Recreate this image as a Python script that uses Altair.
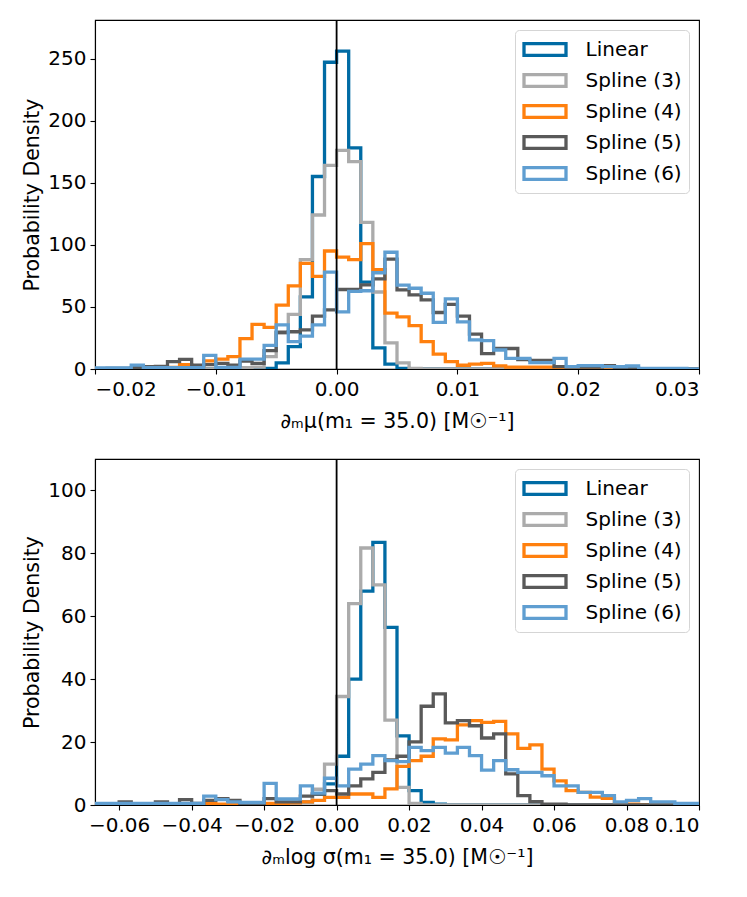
import altair as alt
import numpy as np
import pandas as pd

series = ["Linear", "Spline (3)", "Spline (4)", "Spline (5)", "Spline (6)"]
colors = ["#006BA4", "#ABABAB", "#FF800E", "#595959", "#5F9ED1"]

# ---- top panel: 50 bins from -0.02 to 0.03 ----
top_lo, top_hi = -0.02, 0.03
top_xticks = [-0.02, -0.01, 0.0, 0.01, 0.02, 0.03]
top_yticks = [0, 50, 100, 150, 200, 250]
top_ymax = 281
top_xtitle = "∂ₘμ(m₁ = 35.0) [M☉⁻¹]"

top_linear = [0] * 14 + [0.5, 5, 18, 58, 155, 247, 256, 178, 70, 17, 4, 0.5] + [0] * 24
top_s3 = [0] * 12 + [1, 1.5, 10, 29, 44, 88, 124, 164, 176, 167, 118, 62, 21, 5, 0.5] + [0] * 23
top_s4 = [0] * 4 + [0.5, 0.5, 1.3, 3.5, 2, 6.5, 8, 10, 24.5, 36, 33.5, 51.5, 67, 85, 74.5,
                    95, 90, 88, 101, 80, 45, 42, 35, 22, 12, 6, 3, 4, 4.5, 2.5, 1.5, 1.5,
                    1.5, 1.5, 0.5] + [0] * 11
top_s5 = [0, 0.5, 0.5, 1, 1.9, 2, 5.9, 7.8, 3.2, 3.5, 4.6, 3.2, 6.4, 4.6, 14.8, 29.6, 30,
          31.5, 42.5, 47.6, 64, 64, 67.7, 72.6, 88.4, 63.7, 59.7, 55.6, 45.5, 52, 42.5, 28,
          12.3, 16.5, 16.5, 7.5, 7, 7, 1.9, 1.5, 1.5, 1.5, 2.7, 1, 0.5] + [0] * 5
top_s6 = [0.8, 0.8, 0.8, 3.2, 1, 1, 1, 1, 1, 11, 1.3, 1.3, 8, 8, 19, 35.5, 22, 26.5, 35.5,
          78, 46, 62.5, 63, 77.5, 94, 67.5, 65, 61, 37.5, 56.5, 38, 23.4, 22.8, 15.3, 8.6,
          8.6, 5.1, 5.1, 8.6, 1.9, 2.7, 2.7, 1.9, 1.9, 2.4, 0.5, 0.5, 0.5, 0.5, 0]

# ---- bottom panel: 50 bins from -1/15 to 0.1 ----
bot_lo, bot_hi = -1.0 / 15.0, 0.10
bot_xticks = [-0.06, -0.04, -0.02, 0.0, 0.02, 0.04, 0.06, 0.08, 0.10]
bot_yticks = [0, 20, 40, 60, 80, 100]
bot_ymax = 110
bot_xtitle = "∂ₘlog σ(m₁ = 35.0) [M☉⁻¹]"

bot_linear = [0] * 16 + [0.3, 1, 3.5, 6.7, 15.5, 40, 68, 83.5, 56.5, 22, 4.6, 0.8, 0.3] + [0] * 21
bot_s3 = [0] * 16 + [0.3, 1, 5, 13, 34.5, 64, 81.7, 70, 27, 5.6, 0.5] + [0] * 23
bot_s4 = [0] * 9 + [0.5, 0.3, 0.3, 0.3, 0.3, 0.5, 0.5, 0.7, 1, 1.5, 2.4, 2.4, 3.5, 3.5, 2.4,
                    5.1, 12.3, 14.1, 15.5, 21, 20.7, 25.5, 26.8, 26.3, 26.6, 22.6, 18, 19.1,
                    11.4, 7.7, 4.6, 4, 2.5, 2.1, 0.5, 0.3] + [0] * 5
bot_s5 = [0.3, 0.3, 1, 0.3, 0.3, 1, 0.3, 1.7, 0.5, 1.5, 2, 1.5, 0.5, 0.5, 2, 1, 1, 2.8, 3.5,
          4.6, 3.5, 6.1, 8.3, 10.4, 14.3, 15.5, 20.1, 31.4, 35.3, 26.1, 26.8, 25.2, 21.3,
          22.6, 9.9, 3, 1.1, 0.3, 0.3] + [0] * 11
bot_s6 = [0.5] * 9 + [2.8, 1.7, 1, 0.8, 0.8, 6.9, 1.9, 1.9, 6.1, 3.8, 8.5, 6.1, 11.4, 13, 15.7,
                      14.1, 13.8, 18.3, 17.3, 18.3, 16.5, 18.3, 15.7, 11.1, 14.1, 11.2, 10.4,
                      10.4, 9.3, 6.1, 6.1, 4, 4, 3, 1, 1.5, 2, 1, 1, 0.5, 0.5]

FONT = "DejaVu Sans"


def outline_rows(lo, hi, values, name):
    edges = np.linspace(lo, hi, len(values) + 1)
    xs = [edges[0]]
    ys = [0.0]
    for i, h in enumerate(values):
        xs += [edges[i], edges[i + 1]]
        ys += [h, h]
    xs.append(edges[-1])
    ys.append(0.0)
    return pd.DataFrame({"series": name, "x": xs, "y": ys, "order": range(len(xs))})


def panel(lo, hi, arrays, xticks, yticks, ymax, xtitle, height):
    df = pd.concat([outline_rows(lo, hi, a, s) for a, s in zip(arrays, series)],
                   ignore_index=True)
    x = alt.X("x:Q", scale=alt.Scale(domain=[lo, hi], nice=False, zero=False),
              axis=alt.Axis(values=xticks, format=".2f", title=xtitle,
                            titlePadding=12, labelPadding=5))
    y = alt.Y("y:Q", scale=alt.Scale(domain=[0, ymax], nice=False),
              axis=alt.Axis(values=yticks, format="d", title="Probability Density",
                            titlePadding=5, labelPadding=4))
    color = alt.Color("series:N", scale=alt.Scale(domain=series, range=colors),
                      legend=alt.Legend(title=None, orient="top-right", offset=10))
    layers = []
    for s in series:
        layers.append(
            alt.Chart(df)
            .transform_filter(alt.datum.series == s)
            .mark_line(strokeWidth=3.3, clip=True, strokeJoin="miter", strokeCap="butt")
            .encode(x=x, y=y, color=color, order="order:Q")
        )
    rule = (
        alt.Chart(pd.DataFrame({"x": [0.0]}))
        .mark_rule(color="black", strokeWidth=1.8)
        .encode(x=x)
    )
    layers.append(rule)
    return alt.layer(*layers).properties(width=604, height=height)


top = panel(top_lo, top_hi, [top_linear, top_s3, top_s4, top_s5, top_s6],
            top_xticks, top_yticks, top_ymax, top_xtitle, 349)
bot = panel(bot_lo, bot_hi, [bot_linear, bot_s3, bot_s4, bot_s5, bot_s6],
            bot_xticks, bot_yticks, bot_ymax, bot_xtitle, 346)

chart = (
    alt.vconcat(top, bot, spacing=24)
    .resolve_scale(color="independent", x="independent", y="independent")
    .resolve_legend(color="independent")
    .properties(padding={"left": 14, "top": 10, "right": 10, "bottom": 5})
    .configure(font=FONT)
    .configure_view(stroke="black", strokeWidth=1.1)
    .configure_axis(
        labelFont=FONT, labelFontSize=20, labelColor="black",
        titleFont=FONT, titleFontSize=20.5, titleFontWeight="normal", titleColor="black",
        tickColor="black", tickWidth=1.1, tickSize=5, domainColor="black",
        domainWidth=1.1, grid=False, zindex=1,
    )
    .configure_legend(
        labelFont=FONT, labelFontSize=20, labelColor="black",
        symbolType="M-2,-0.56H2V0.56H-2Z", symbolSize=441, symbolStrokeWidth=3.3,
        symbolOffset=10.5, symbolFillColor="white", labelOffset=28, rowPadding=6,
        fillColor="rgba(255,255,255,0.8)", strokeColor="#d5d5d5", cornerRadius=4,
        padding=7,
    )
)

chart.save("out.html", embed_options={"renderer": "svg", "actions": False})
